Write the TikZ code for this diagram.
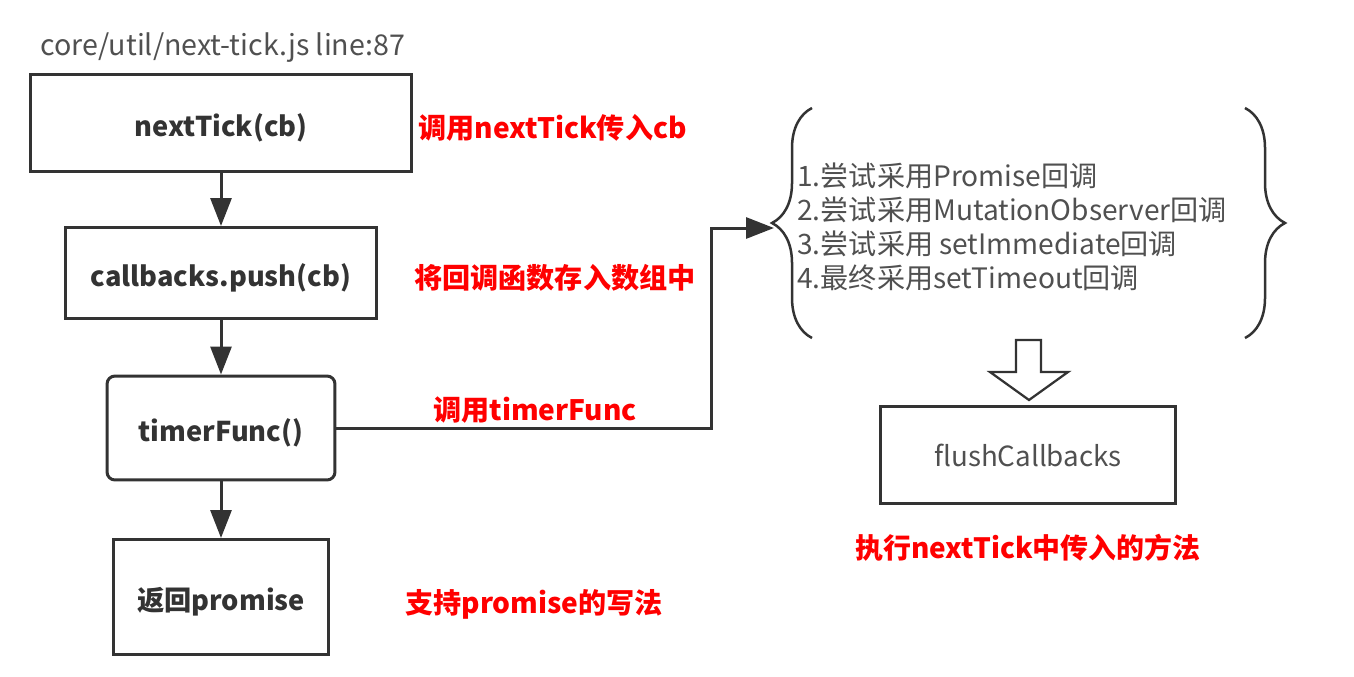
\documentclass[tikz,border=0pt]{standalone}
\usepackage{fontspec}
\setmainfont{Noto Sans CJK SC}
\usepackage{tikz}
\usetikzlibrary{positioning, calc, arrows.meta, decorations.pathreplacing}

\definecolor{linegray}{HTML}{333333}
\definecolor{txtgray}{HTML}{505050}
\definecolor{notered}{HTML}{FF0000}

\begin{document}
\begin{tikzpicture}[x=0.02cm, y=-0.02cm,
    box/.style={draw=linegray, line width=0.06cm, inner sep=0pt, text=linegray,
      font=\bfseries\fontsize{15.5}{17}\selectfont},
    lowtext/.style={text height=19pt, text depth=4pt},
    note/.style={text=notered, inner sep=0pt, font=\bfseries\fontsize{16}{18}\selectfont},
    arr/.style={draw=linegray, line width=0.06cm, -{Triangle[length=0.56cm, width=0.42cm]}}]
    \useasboundingbox (0,0) rectangle (1354,676);

    % left column
    \node[text=txtgray, anchor=west, inner sep=0pt, font=\fontsize{16.3}{18}\selectfont] (file) at (40,48) {core/util/next-tick.js line:87};
    \node[box, lowtext, minimum width=7.64cm, minimum height=1.94cm] (tick) at (221,123) {nextTick(cb)};
    \node[box, lowtext, minimum width=6.22cm, minimum height=1.82cm] (push) at (221,273) {callbacks.push(cb)};
    \node[box, lowtext, rounded corners=0.16cm, minimum width=4.56cm, minimum height=2.08cm] (timer) at (221,428) {timerFunc()};
    \node[box, lowtext, minimum width=4.32cm, minimum height=2.3cm] (promise) at (221,597) {返回promise};

    \draw[arr] (tick) -- (push);
    \draw[arr] (push) -- (timer);
    \draw[arr] (timer) -- (promise);

    % red comments
    \node[note, anchor=west] (tickcmt) at (418,128) {调用nextTick传入cb};
    \node[note, anchor=west] (pushcmt) at (414,278) {将回调函数存入数组中};
    \node[note, anchor=west] (timercmt) at (433,410) {调用timerFunc};
    \node[note, anchor=west] (promisecmt) at (405,604) {支持promise的写法};

    % braces + fallbacks
    \draw[linegray, line width=0.05cm, decorate, decoration={brace, amplitude=0.8cm}] (812,338) -- (812,108);
    \draw[linegray, line width=0.05cm, decorate, decoration={brace, amplitude=0.8cm}] (1245,108) -- (1245,338);
    \coordinate (lbtip) at (774,228);
    \coordinate (bend) at (711,228);
    \node[anchor=west, align=left, inner sep=0pt, text=txtgray, font=\fontsize{16}{19.3}\selectfont] (ways) at (797,227)
      {1.尝试采用Promise回调\\2.尝试采用MutationObserver回调\\3.尝试采用 setImmediate回调\\4.最终采用setTimeout回调};
    \draw[arr] (timer.east) -| (bend) -- (lbtip);

    % hollow arrow
    \draw[linegray, line width=0.045cm, line join=miter] (1016,340) -- (1041,340) -- (1041,372) -- (1068,372)
      -- (1029,400) -- (990,372) -- (1016,372) -- cycle;

    \node[box, font=\fontsize{15.8}{17}\selectfont, text=txtgray, minimum width=5.92cm, minimum height=1.94cm] (flush) at (1028,455) {flushCallbacks};
    \node[note, font=\bfseries\fontsize{15.9}{18}\selectfont] (flushcmt) at (1028,548) {执行nextTick中传入的方法};
\end{tikzpicture}
\end{document}
